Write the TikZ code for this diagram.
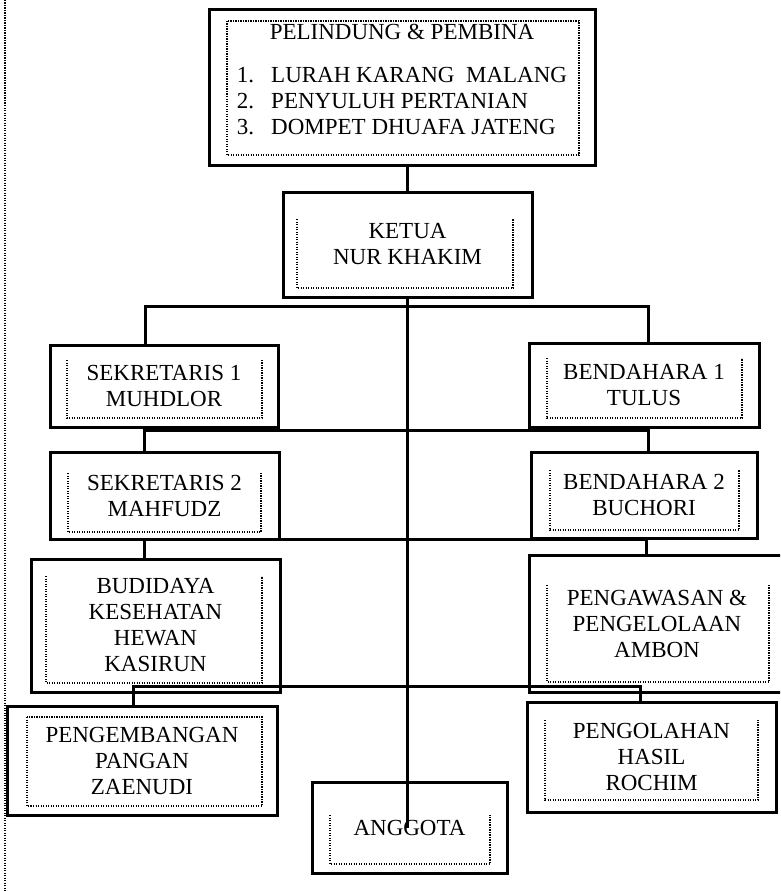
\documentclass[tikz,border=0pt]{standalone}
\usepackage{fontspec}
\setmainfont{Liberation Serif}
\usetikzlibrary{positioning}

\tikzset{
	kotak/.style={draw, line width=3pt, inner sep=0pt, align=center, font=\fontsize{23}{26}\selectfont},
	titik/.style={line width=1.2pt, dash pattern=on 1.2pt off 1.3pt},
	garis/.style={line width=3pt},
}

\begin{document}
\begin{tikzpicture}[x=1pt,y=-1pt]
					\useasboundingbox (0,0) rectangle (780,891);
					\clip (0,0) rectangle (780,891);
					\draw[titik] (5,0) -- (5,891);

					\node[kotak, minimum width=386pt, minimum height=155pt] (pelindung) at (402,87.5) {\begin{tabular}{@{}l@{\hspace{17pt}}l@{}}\multicolumn{2}{c}{PELINDUNG \& PEMBINA}\\[17pt]
						1. & LURAH KARANG\ \ MALANG\\
						2. & PENYULUH PERTANIAN\\
						3. & DOMPET DHUAFA JATENG\\[11pt]\end{tabular}};
					\node[kotak, minimum width=249pt, minimum height=105pt] (ketua) at (407.5,244.5) {KETUA\\NUR KHAKIM};
					\node[kotak, minimum width=228pt, minimum height=82pt] (sek1) at (164,386) {SEKRETARIS 1\\MUHDLOR};
					\node[kotak, minimum width=230pt, minimum height=84pt] (ben1) at (644,385) {BENDAHARA 1\\TULUS};
					\node[kotak, minimum width=229pt, minimum height=87pt] (sek2) at (164.5,495.5) {SEKRETARIS 2\\MAHFUDZ};
					\node[kotak, minimum width=226pt, minimum height=86pt] (ben2) at (644,495) {BENDAHARA 2\\BUCHORI};
					\node[kotak, minimum width=249pt, minimum height=133pt] (budidaya) at (155.5,625.5) {BUDIDAYA\\KESEHATAN\\HEWAN\\KASIRUN};
					\node[kotak, minimum width=256pt, minimum height=137pt] (pengawasan) at (657,623.5) {PENGAWASAN \&\\PENGELOLAAN\\AMBON};
					\node[kotak, minimum width=270pt, minimum height=109pt] (pengembangan) at (142,760.5) {PENGEMBANGAN\\PANGAN\\ZAENUDI};
					\node[kotak, minimum width=249pt, minimum height=110pt] (pengolahan) at (651.5,757) {PENGOLAHAN\\HASIL\\ROCHIM};
					\node[kotak, minimum width=195pt, minimum height=91pt] (anggota) at (409.5,827.5) {ANGGOTA};

					\draw[titik] (227,21) rectangle (579,155);
					\draw[titik] (297,219) -- (297,288) -- (513,288) -- (513,219);
					\draw[titik] (67,360) -- (67,418) -- (262,418) -- (262,360);
					\draw[titik] (547,358) -- (547,418) -- (742,418) -- (742,358);
					\draw[titik] (68,473) -- (68,532) -- (261,532) -- (261,473);
					\draw[titik] (550,470) -- (550,530) -- (739,530) -- (739,470);
					\draw[titik] (46,576) -- (46,683) -- (262,683) -- (262,576);
					\draw[titik] (547,585) -- (547,682) -- (769,682) -- (769,585);
					\draw[titik] (27,717) rectangle (262,806);
					\draw[titik] (545,720) -- (545,800) -- (758,800) -- (758,720);
					\draw[titik] (330,815) -- (330,864) -- (490,864) -- (490,815);

					\coordinate (a1) at (145,306);
					\coordinate (b1) at (648,306);
					\coordinate (a2) at (144,430);
					\coordinate (b2) at (648,430);
					\coordinate (a3) at (144,539);
					\coordinate (b3) at (646,539);
					\coordinate (a4) at (133,686);
					\coordinate (b4) at (640,686);

					\draw[garis] (ketua.north) -- (ketua.north |- pelindung.south);
					\draw[garis] (ketua.south) -- (ketua.south |- anggota.center);
					\draw[garis] (a1 |- sek1.north) -- (a1) -- (b1) -- (b1 |- ben1.north);
					\draw[garis] (a2 |- sek2.north) -- (a2) -- (b2) -- (b2 |- ben2.north);
					\draw[garis] (a3 |- budidaya.north) -- (a3) -- (b3) -- (b3 |- pengawasan.north);
					\draw[garis] (a4 |- pengembangan.north) -- (a4) -- (b4) -- (b4 |- pengolahan.north);

				\end{tikzpicture}
\end{document}
